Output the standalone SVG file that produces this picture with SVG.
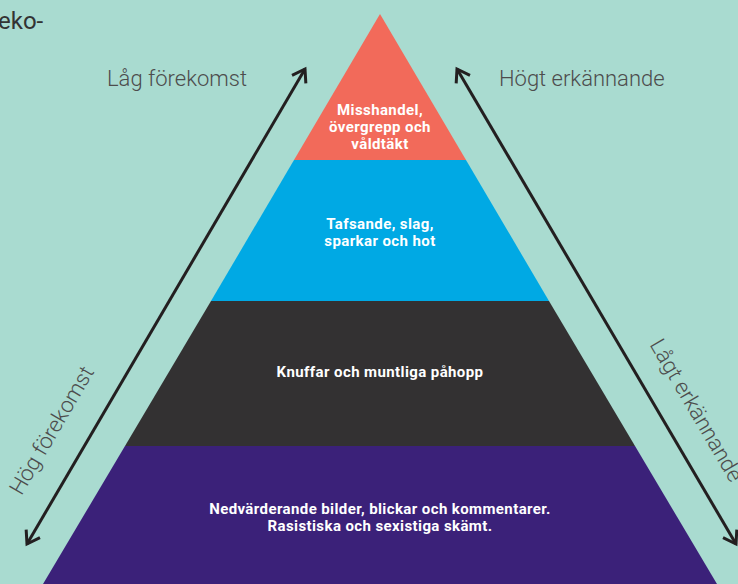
<svg xmlns="http://www.w3.org/2000/svg" width="738" height="584" viewBox="0 0 738 584">
<style>
.lbl{font-family:Roboto,"Liberation Sans",sans-serif;font-size:22px;fill:#4d4d4d;font-weight:300}
.in{font-family:Roboto,"Liberation Sans",sans-serif;font-size:15px;letter-spacing:0.4px;fill:#ffffff;font-weight:bold;text-anchor:middle}
.arr{stroke:#231f20;stroke-width:3;fill:none}
</style>
<defs>
<marker id="head" viewBox="0 0 20 20" refX="17" refY="10" markerWidth="20" markerHeight="20" markerUnits="userSpaceOnUse" orient="auto-start-reverse">
<path d="M5,2 L17,10 L5,18" fill="none" stroke="#231f20" stroke-width="3"/>
</marker>
</defs>
<rect width="738" height="584" fill="#a9dbd0"/>
<text x="-2" y="29" class="lbl" style="fill:#333;font-weight:400;font-size:24px">eko-</text>
<g id="level1">
<polygon points="380,14 294,160 466,160" fill="#f26a5a"/>
<text class="in"><tspan x="380" y="115">Misshandel,</tspan><tspan x="380" y="132">övergrepp och</tspan><tspan x="380" y="149">våldtäkt</tspan></text>
</g>
<g id="level2">
<polygon points="294,160 466,160 549,301 211,301" fill="#00a9e4"/>
<text class="in"><tspan x="380" y="229">Tafsande, slag,</tspan><tspan x="380" y="246">sparkar och hot</tspan></text>
</g>
<g id="level3">
<polygon points="211,301 549,301 635,446 125,446" fill="#333132"/>
<text class="in" x="380" y="377">Knuffar och muntliga påhopp</text>
</g>
<g id="level4">
<polygon points="125,446 635,446 717,584 43,584" fill="#3b2179"/>
<text class="in"><tspan x="380" y="514">Nedvärderande bilder, blickar och kommentarer.</tspan><tspan x="380" y="531">Rasistiska och sexistiga skämt.</tspan></text>
</g>
<g id="connectors">
<line class="arr" x1="27" y1="544" x2="305" y2="69" marker-start="url(#head)" marker-end="url(#head)"/>
<line class="arr" x1="457" y1="69" x2="736" y2="544" marker-start="url(#head)" marker-end="url(#head)"/>
</g>
<g id="labels">
<text class="lbl" x="107" y="86">Låg förekomst</text>
<text class="lbl" x="499" y="86">Högt erkännande</text>
<text class="lbl" text-anchor="middle" transform="translate(58,434) rotate(-59.6)">Hög förekomst</text>
<text class="lbl" text-anchor="middle" transform="translate(690,414) rotate(59.6)">Lågt erkännande</text>
</g>
</svg>
